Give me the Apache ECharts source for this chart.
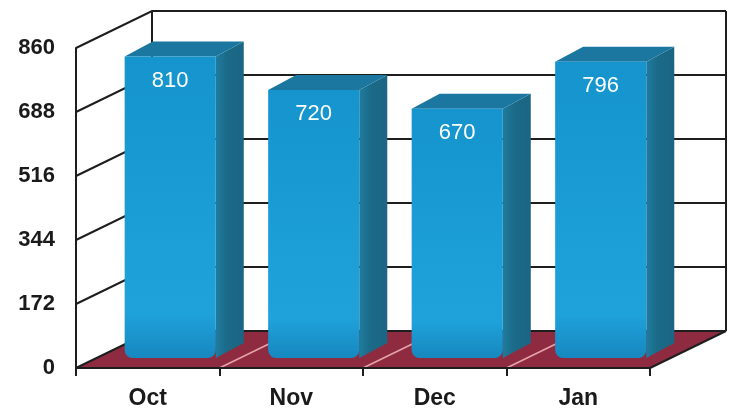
<!DOCTYPE html>
<html>
<head>
<meta charset="utf-8">
<script src="https://cdn.jsdelivr.net/npm/echarts@6/dist/echarts.min.js"></script>
<style>
  html, body { margin: 0; padding: 0; background: #fff; }
  #chart { width: 731px; height: 412px; }
</style>
</head>
<body>
<div id="chart"></div>
<script>
// chart data
var months = ['Oct', 'Nov', 'Dec', 'Jan'];
var values = [810, 720, 670, 796];
var yTicks = [0, 172, 344, 516, 688, 860];

// 3d look: offset of the back wall, and of the bars inside the box
var WALL_DX = 76, WALL_DY = -37;
var BAR_DX = 30, BAR_DY = -10;      // front face of the bars sits a bit into the box
var DEPTH_DX = 28, DEPTH_DY = -15;  // bar thickness
var FONT = '"Liberation Sans", Arial, sans-serif';

var chart = echarts.init(document.getElementById('chart'));

// walls, floor and back grid lines
function renderFrame(params, api) {
  var cs = params.coordSys;
  var v = api.value(1);
  var y = api.coord([0, v])[1];
  var xl = cs.x, xr = cs.x + cs.width;
  var dark = { stroke: '#1e1e1e', lineWidth: 2, fill: null };
  var kids = [];

  if (v === 0) {
    kids.push({
      type: 'polygon',
      shape: { points: [[xl, y], [xl + WALL_DX, y + WALL_DY], [xr + WALL_DX, y + WALL_DY], [xr, y]] },
      style: { fill: '#8e2b40' }
    });
    var band = api.size([1, 0])[0];
    for (var k = 1; k < months.length; k++) {
      var bx = xl + k * band;
      kids.push({
        type: 'line',
        shape: { x1: bx, y1: y, x2: bx + WALL_DX, y2: y + WALL_DY },
        style: { stroke: '#e7a3aa', lineWidth: 1.5 }
      });
    }
    kids.push({
      type: 'line',
      shape: { x1: xr, y1: y, x2: xr + WALL_DX, y2: y + WALL_DY },
      style: dark
    });
  }
  if (v === yTicks[yTicks.length - 1]) {
    var y0 = api.coord([0, 0])[1];
    kids.push({ type: 'line', shape: { x1: xl + WALL_DX, y1: y + WALL_DY, x2: xl + WALL_DX, y2: y0 + WALL_DY }, style: dark });
    kids.push({ type: 'line', shape: { x1: xr + WALL_DX, y1: y + WALL_DY, x2: xr + WALL_DX, y2: y0 + WALL_DY }, style: dark });
  }
  kids.push({
    type: 'polyline',
    shape: { points: [[xl, y], [xl + WALL_DX, y + WALL_DY], [xr + WALL_DX, y + WALL_DY]] },
    style: dark
  });
  return { type: 'group', children: kids };
}

// one 3d column
function renderBar(params, api) {
  var i = api.value(0), v = api.value(1);
  var base = api.coord([i, 0]);
  var top = api.coord([i, v]);
  var band = api.size([1, 0])[0];
  var x0 = base[0] - band / 2 + band * 0.13 + BAR_DX;
  var x1 = x0 + band * 0.635;
  var yb = base[1] + BAR_DY, yt = top[1] + BAR_DY;

  return {
    type: 'group',
    children: [
      {
        type: 'polygon',
        shape: { points: [[x1, yt], [x1 + DEPTH_DX, yt + DEPTH_DY], [x1 + DEPTH_DX, yb + DEPTH_DY], [x1, yb]] },
        style: {
          fill: new echarts.graphic.LinearGradient(0, 0, 1, 0, [
            { offset: 0, color: '#1f7c9e' },
            { offset: 0.4, color: '#1b6a88' },
            { offset: 1, color: '#1a6684' }
          ])
        }
      },
      {
        type: 'polygon',
        shape: { points: [[x0, yt], [x0 + DEPTH_DX, yt + DEPTH_DY], [x1 + DEPTH_DX, yt + DEPTH_DY], [x1, yt]] },
        style: { fill: '#1b77a0' }
      },
      {
        type: 'rect',
        shape: { x: x0, y: yt, width: x1 - x0, height: yb - yt, r: [0, 0, 8, 8] },
        style: {
          fill: new echarts.graphic.LinearGradient(0, 0, 0, 1, [
            { offset: 0, color: '#1594cd' },
            { offset: 0.85, color: '#1fa2da' },
            { offset: 1, color: '#1787bf' }
          ])
        }
      },
      {
        type: 'text',
        x: (x0 + x1) / 2,
        y: yt + 24,
        style: {
          text: String(v),
          fill: '#fff',
          font: '22px ' + FONT,
          align: 'center',
          verticalAlign: 'middle'
        }
      }
    ]
  };
}

var option = {
  animation: false,
  backgroundColor: '#fff',
  grid: { left: 76, right: 81, top: 48, bottom: 44 },
  xAxis: {
    type: 'category',
    data: months,
    z: 5,
    axisLine: { lineStyle: { color: '#1e1e1e', width: 2 } },
    axisTick: { show: true, length: 8, lineStyle: { color: '#1e1e1e', width: 2 } },
    axisLabel: { margin: 19, color: '#1a1a1a', fontSize: 23, fontWeight: 'bold', fontFamily: FONT },
    splitLine: { show: false }
  },
  yAxis: {
    type: 'value',
    min: 0,
    max: 860,
    interval: 172,
    z: 5,
    axisLine: { show: true, lineStyle: { color: '#1e1e1e', width: 2 } },
    axisTick: { show: false },
    axisLabel: { margin: 21, padding: [4, 0, 0, 0], color: '#1a1a1a', fontSize: 22, fontWeight: 'bold', fontFamily: FONT },
    splitLine: { show: false }
  },
  series: [
    {
      type: 'custom',
      z: 1,
      clip: false,
      silent: true,
      renderItem: renderFrame,
      data: yTicks.map(function (t) { return [0, t]; })
    },
    {
      type: 'custom',
      z: 2,
      clip: false,
      renderItem: renderBar,
      data: values.map(function (v, i) { return [i, v]; })
    }
  ]
};

chart.setOption(option);
</script>
</body>
</html>
